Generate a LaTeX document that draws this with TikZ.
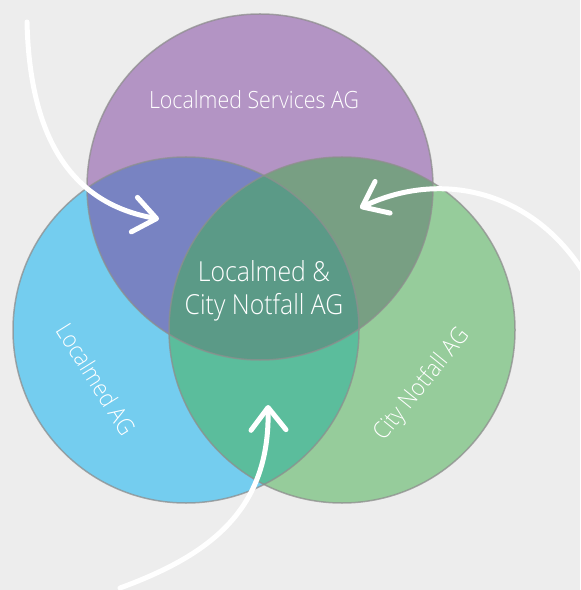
\documentclass[tikz,border=0pt]{standalone}
\usepackage{fontspec}
\setmainfont{Open Sans}[UprightFont=* Light, FakeStretch=0.9]
\usetikzlibrary{arrows.meta}
\definecolor{bggray}{HTML}{EDEDED}
\definecolor{rimgray}{HTML}{8E8E8E}
\definecolor{services}{HTML}{B394C4}
\definecolor{localmed}{HTML}{74CDEF}
\definecolor{notfall}{HTML}{96CC9B}
\definecolor{servlocal}{HTML}{7883C2}
\definecolor{servnot}{HTML}{789F83}
\definecolor{localnot}{HTML}{5BBD9C}
\definecolor{allthree}{HTML}{5B9A87}
\tikzset{
  rim/.style = {draw=rimgray, draw opacity=0.75, line width=0.03cm},
  label/.style = {text=white, font=\fontsize{13.5}{18.7}\selectfont, align=center},
  biglabel/.style = {label, font=\fontsize{15.7}{18.9}\selectfont},
  pointer/.style = {draw=white, line width=0.1cm, line cap=round,
    -{Straight Barb[length=0.45cm, width=0.7cm, line cap=round, line join=round]}}
}
\begin{document}
\begin{tikzpicture}[x=0.02cm, y=-0.02cm]
\def\rad{173}
\fill[bggray] (0,0) rectangle (580,590);
\useasboundingbox (0,0) rectangle (580,590);
% circle centres
\coordinate (top) at (260,187);
\coordinate (left) at (186,330);
\coordinate (right) at (342,330);
% plain discs
\fill[services] (top) circle (\rad);
\fill[localmed] (left) circle (\rad);
\fill[notfall] (right) circle (\rad);
% overlaps
\begin{scope}
\clip (top) circle (\rad);
\fill[servlocal] (left) circle (\rad);
\fill[servnot] (right) circle (\rad);
\end{scope}
\begin{scope}
\clip (left) circle (\rad);
\fill[localnot] (right) circle (\rad);
\clip (top) circle (\rad);
\fill[allthree] (right) circle (\rad);
\end{scope}
% outlines
\draw[rim] (top) circle (\rad);
\draw[rim] (left) circle (\rad);
\draw[rim] (right) circle (\rad);
% labels
\node[label] (servlabel) at (254,100) {Localmed Services AG};
\node[biglabel] (mainlabel) at (264,291) {Localmed \&\\City Notfall AG};
\node[label, rotate=-58] (locallabel) at (96,379) {Localmed AG};
\node[label, rotate=51] (notlabel) at (422,385) {City Notfall AG};
% arrows
\coordinate (a1) at (27,22);
\coordinate (t1) at (159,219);
\coordinate (a2) at (582,270);
\coordinate (t2) at (360,208);
\coordinate (a3) at (120,588);
\coordinate (t3) at (268,405);
\draw[pointer] (a1) .. controls (30,150) and (80,205) .. (t1);
\draw[pointer] (a2) .. controls (530,190) and (440,170) .. (t2);
\draw[pointer] (a3) .. controls (210,555) and (270,510) .. (t3);
\end{tikzpicture}
\end{document}
